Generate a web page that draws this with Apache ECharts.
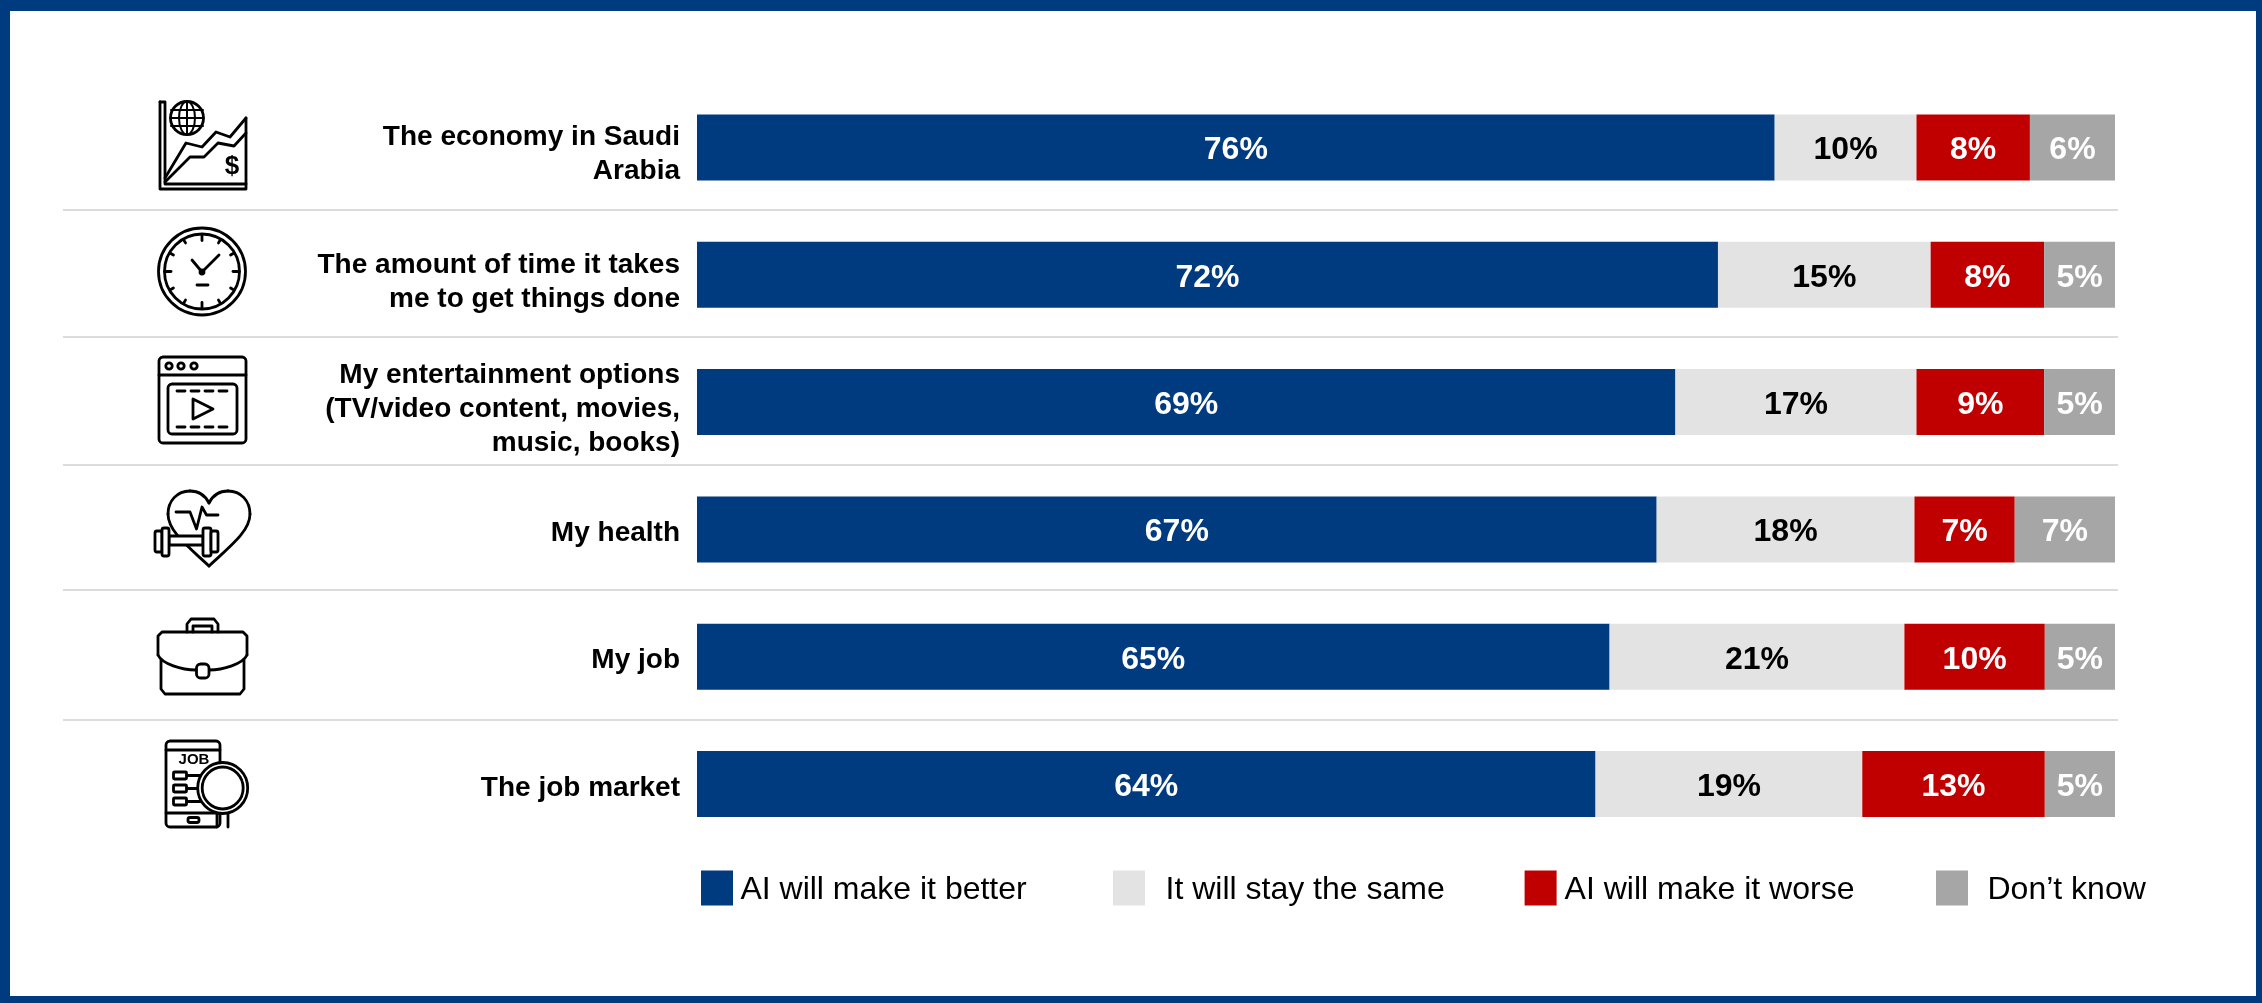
<!DOCTYPE html>
<html>
<head>
<meta charset="utf-8">
<title>AI impact on daily life and the economy</title>
<style>html,body{margin:0;padding:0;background:#fff}#chart{width:2262px;height:1003px}</style>
<script src="https://cdn.jsdelivr.net/npm/echarts@6/dist/echarts.min.js"></script>
</head>
<body>
<div id="chart"></div>
<script>
const categories = [
  'The economy in Saudi\nArabia',
  'The amount of time it takes\nme to get things done',
  'My entertainment options\n(TV/video content, movies,\nmusic, books)',
  'My health',
  'My job',
  'The job market'
];
const better = [76, 72, 69, 67, 65, 64];
const same = [10, 15, 17, 18, 21, 19];
const worse = [8, 8, 9, 7, 10, 13];
const dontKnow = [6, 5, 5, 7, 5, 5];

const NAVY = '#003A7F', LIGHT = '#E3E3E3', RED = '#C00000', GREY = '#A6A6A6', INK = '#000';
const FONT = '"Liberation Sans", Arial, sans-serif';

// Rows are a 100% stack: each segment is its stated value as a share of the row total.
const rowTotals = categories.map((_, i) => better[i] + same[i] + worse[i] + dontKnow[i]);
const segment = (values, name, color, labelColor) => ({
  name,
  type: 'bar',
  stack: 'total',
  barWidth: 66,
  itemStyle: { color },
  label: {
    show: true,
    position: 'inside',
    offset: [0, 3],
    color: labelColor,
    fontFamily: FONT,
    fontSize: 32,
    fontWeight: 'bold',
    formatter: p => p.data.stated + '%'
  },
  data: values.map((v, i) => ({ value: v / rowTotals[i] * 100, stated: v }))
});

// Drawing helpers for the line icons in the left column.
const stroke = { stroke: INK, lineWidth: 2.8, fill: 'none', lineCap: 'round', lineJoin: 'round' };
const pl = (points, lw) => ({ type: 'polyline', shape: { points }, style: { ...stroke, lineWidth: lw || 2.8 } });
const circ = (cx, cy, r, fill, lw) => ({ type: 'circle', shape: { cx, cy, r }, style: { ...stroke, fill: fill || 'none', lineWidth: lw || 2.8 } });
const box = (x, y, width, height, r, fill) => ({ type: 'rect', shape: { x, y, width, height, r: r || 0 }, style: { ...stroke, fill: fill || 'none' } });
const bez = (x1, y1, cpx1, cpy1, cpx2, cpy2, x2, y2) => ({ type: 'bezierCurve', shape: { x1, y1, cpx1, cpy1, cpx2, cpy2, x2, y2 }, style: stroke });
const glyph = (text, x, y, size) => ({ type: 'text', x, y, style: { text, fill: INK, fontFamily: FONT, fontSize: size, fontWeight: 'bold', align: 'center', verticalAlign: 'middle' } });

function chartIcon() {
  return [
    pl([[160, 102], [160, 189], [246, 189], [246, 118]]),
    pl([[160, 102], [165, 102], [165, 184], [246, 184]]),
    circ(187, 118, 16.5),
    { type: 'ellipse', shape: { cx: 187, cy: 118, rx: 8, ry: 16.5 }, style: { ...stroke, lineWidth: 2 } },
    pl([[171, 110], [203, 110]], 2), pl([[170.5, 118], [203.5, 118]], 2), pl([[171, 126], [203, 126]], 2), pl([[187, 102], [187, 134]], 2),
    pl([[165, 178], [186, 143], [202, 147], [216, 132], [230, 137], [246, 118]]),
    pl([[165, 182], [190, 157], [204, 157], [218, 143], [234, 146], [246, 133]]),
    glyph('$', 232, 167, 26)
  ];
}
function clockIcon() {
  const cx = 202, cy = 271.5, parts = [
    circ(cx, cy, 43.5), circ(cx, cy, 37.5),
    pl([[192, 260], [202, 272], [219, 255]]),
    circ(202, 272, 2),
    pl([[197, 285], [208, 285]])
  ];
  for (let h = 0; h < 12; h += 1) {
    const a = h * Math.PI / 6, inner = h % 3 === 0 ? 31 : 33;
    parts.push(pl([[cx + Math.sin(a) * 37, cy - Math.cos(a) * 37], [cx + Math.sin(a) * inner, cy - Math.cos(a) * inner]]));
  }
  return parts;
}
function videoIcon() {
  const parts = [
    box(159, 357, 87, 86, 4),
    pl([[159, 375], [246, 375]]),
    circ(169, 366, 3.2), circ(181, 366, 3.2), circ(194, 366, 3.2),
    box(168, 384, 69, 50, 4),
    { type: 'polygon', shape: { points: [[193, 399], [193, 419], [213, 409]] }, style: stroke }
  ];
  [177, 191, 205, 219].forEach(x => {
    parts.push(pl([[x, 391], [x + 8, 391]]));
    parts.push(pl([[x, 427], [x + 8, 427]]));
  });
  return parts;
}
function healthIcon() {
  return [
    bez(209, 503, 205, 495, 198, 491, 190, 491),
    bez(190, 491, 177, 491, 168, 501, 168, 514),
    bez(168, 514, 168, 532, 190, 548, 209, 566),
    bez(209, 503, 213, 495, 220, 491, 228, 491),
    bez(228, 491, 241, 491, 250, 501, 250, 514),
    bez(250, 514, 250, 532, 228, 548, 209, 566),
    pl([[176, 512], [190, 512], [196.5, 529], [202, 507], [206.5, 515], [218, 515]]),
    box(169, 536, 34, 9, 1, '#fff'),
    box(155, 531, 7, 21, 2, '#fff'),
    box(162, 528, 7, 28, 2, '#fff'),
    box(203, 528, 8, 28, 2, '#fff'),
    box(211, 531, 7, 21, 2, '#fff')
  ];
}
function jobIcon() {
  return [
    pl([[187, 632], [187, 624], [191, 619], [214, 619], [218, 624], [218, 632]]),
    pl([[193, 632], [193, 626], [212, 626], [212, 632]]),
    pl([[161, 660], [161, 689], [165, 694], [240, 694], [244, 689], [244, 660]]),
    pl([[158, 655], [158, 636], [162, 632], [243, 632], [247, 636], [247, 655]]),
    bez(158, 655, 162, 664, 182, 670, 196, 670),
    bez(247, 655, 243, 664, 223, 670, 209, 670),
    box(196.5, 664, 12.5, 14, 4, '#fff')
  ];
}
function marketIcon() {
  const parts = [
    box(166, 741, 54, 86, 4),
    pl([[166, 750], [220, 750]]),
    pl([[166, 813], [220, 813]]),
    box(188, 817.5, 11, 5, 2),
    glyph('JOB', 194, 760, 15)
  ];
  [772, 785, 798].forEach(y => {
    parts.push(box(173.5, y, 13, 7, 1));
    parts.push(pl([[187, y + 3.5], [202, y + 3.5]]));
  });
  parts.push(pl([[217, 812], [217, 827]]), pl([[228, 812], [228, 827]]));
  parts.push({ type: 'ellipse', shape: { cx: 222.7, cy: 788, rx: 25, ry: 25.5 }, style: { ...stroke, fill: '#fff' } });
  parts.push({ type: 'ellipse', shape: { cx: 222.7, cy: 788, rx: 20.5, ry: 21 }, style: stroke });
  return parts;
}

const icons = [chartIcon, clockIcon, videoIcon, healthIcon, jobIcon, marketIcon]
  .map(make => ({ type: 'group', children: make() }));

const separatorYs = [210, 337, 465, 590, 720];
const separators = separatorYs.map(y => ({
  type: 'line',
  shape: { x1: 63, y1: y, x2: 2118, y2: y },
  style: { stroke: '#DCDCDC', lineWidth: 2 }
}));

const legendRow = (name, left, gap) => ({
  data: [name],
  left,
  top: 870,
  padding: 0,
  icon: 'rect',
  itemWidth: 32,
  itemHeight: 35,
  selectedMode: false,
  formatter: '{entry|{name}}',
  textStyle: {
    rich: {
      entry: { fontFamily: FONT, fontSize: 32, color: INK, lineHeight: 35, padding: [4, 0, 0, gap] }
    }
  }
});

// Category labels sit a little below the bar centre; the first line of each label carries the extra top padding.
const labelDrop = [14, 14, 14, 8, 8, 8];
const labelRich = {};
labelDrop.forEach((top, i) => {
  const line = { fontFamily: FONT, fontSize: 28, fontWeight: 'bold', color: INK, lineHeight: 34 };
  labelRich['first' + i] = { ...line, lineHeight: 34 + top, padding: [top, 0, 0, 0] };
  labelRich['rest' + i] = line;
});

const chart = echarts.init(document.getElementById('chart'), null, { renderer: 'canvas' });
chart.setOption({
  animation: false,
  backgroundColor: '#fff',
  grid: { left: 697, width: 1418, top: 83.85, height: 763.8 },
  xAxis: { type: 'value', min: 0, max: 100, show: false },
  yAxis: {
    type: 'category',
    inverse: true,
    data: categories,
    axisLine: { show: false },
    axisTick: { show: false },
    axisLabel: {
      margin: 17,
      align: 'right',
      rich: labelRich,
      formatter: (value, i) => value.split('\n')
        .map((line, n) => `{${n === 0 ? 'first' : 'rest'}${i}|${line}}`)
        .join('\n')
    }
  },
  legend: [
    legendRow('AI will make it better', 701, 2.4),
    legendRow('It will stay the same', 1113, 15.5),
    legendRow('AI will make it worse', 1524.6, 3),
    legendRow('Don’t know', 1936, 14.5)
  ],
  series: [
    segment(better, 'AI will make it better', NAVY, '#fff'),
    segment(same, 'It will stay the same', LIGHT, INK),
    segment(worse, 'AI will make it worse', RED, '#fff'),
    segment(dontKnow, 'Don’t know', GREY, '#fff')
  ],
  graphic: [
    { type: 'rect', z: -20, shape: { x: 0, y: 0, width: 2262, height: 11 }, style: { fill: NAVY } },
    { type: 'rect', z: -20, shape: { x: 0, y: 996, width: 2262, height: 7 }, style: { fill: NAVY } },
    { type: 'rect', z: -20, shape: { x: 0, y: 0, width: 10, height: 1003 }, style: { fill: NAVY } },
    { type: 'rect', z: -20, shape: { x: 2256, y: 0, width: 6, height: 1003 }, style: { fill: NAVY } },
    ...separators,
    ...icons
  ]
});
</script>
</body>
</html>
